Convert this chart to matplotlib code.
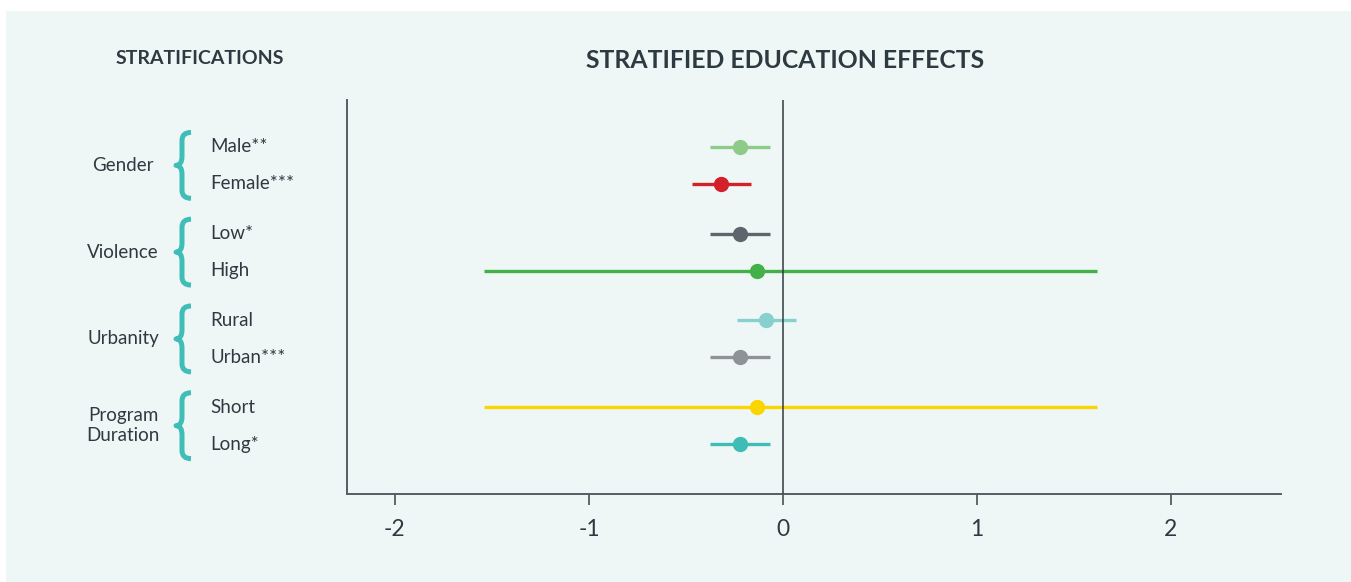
import matplotlib.pyplot as plt
import matplotlib.transforms as mtransforms
from matplotlib.path import Path
from matplotlib.patches import PathPatch, Rectangle

plt.rcParams['font.family'] = ['Lato', 'DejaVu Sans']

# data
groups = ['Gender', 'Violence', 'Urbanity', 'Program\nDuration']
labels = [['Male**', 'Female***'], ['Low*', 'High'],
          ['Rural', 'Urban***'], ['Short', 'Long*']]
estimates = [[-0.22, -0.32], [-0.22, -0.134], [-0.088, -0.22], [-0.134, -0.22]]
lower = [[-0.376, -0.47], [-0.376, -1.54], [-0.237, -0.376], [-1.54, -0.376]]
upper = [[-0.067, -0.165], [-0.067, 1.62], [0.067, -0.067], [1.62, -0.067]]
colors = [['#8fcb88', '#d42029'], ['#5e656d', '#43b049'],
          ['#86d0cd', '#8e9398'], ['#fbd500', '#3fbcb6']]
xticks = [-2, -1, 0, 1, 2]

text_col = '#2e3a41'
bg = '#eff7f6'
group_step = 2.35

fig = plt.figure(figsize=(13.51, 5.82), dpi=100)
fig.patches.append(Rectangle((6 / 1351, 0), 1, 1 - 11 / 582, transform=fig.transFigure,
                             facecolor=bg, edgecolor='none', zorder=-10))
ax = fig.add_axes([347 / 1351, 88 / 582, (1281 - 347) / 1351, (494 - 100) / 582])
ax.set_facecolor('none')

ax.axvline(0, color='#333b40', lw=1.1, zorder=5)

for g in range(len(groups)):
    for r in range(2):
        y = g * group_step + r
        ax.plot([lower[g][r], upper[g][r]], [y, y], color=colors[g][r], lw=2.4,
                solid_capstyle='butt', zorder=3)
        ax.plot(estimates[g][r], y, 'o', color=colors[g][r], ms=10, zorder=6)

ax.set_xlim(-2.247, 2.567)
ax.set_ylim(3 * group_step + 1 + 1.35, -1.27)
ax.set_xticks(xticks)
ax.set_xticklabels([str(t) for t in xticks], fontsize=16.5, color=text_col)
ax.set_yticks([])
ax.tick_params(axis='x', length=8, width=1.3, color='#555d62', pad=10)
for s in ['top', 'right']:
    ax.spines[s].set_visible(False)
for s in ['left', 'bottom']:
    ax.spines[s].set_color('#555d62')
    ax.spines[s].set_linewidth(1.4)

fig.text(785 / 1351, 1 - 60 / 582, 'STRATIFIED EDUCATION EFFECTS', ha='center', va='center',
         fontsize=17.8, fontweight='bold', color=text_col)
fig.text(200 / 1351, 1 - 58 / 582, 'STRATIFICATIONS', ha='center', va='center',
         fontsize=14, fontweight='bold', color=text_col)

# labels and braces
blend = mtransforms.blended_transform_factory(fig.transFigure, ax.transData)
px = 1 / 1351
unit = 37.0  # pixels per data unit in y
for g in range(len(groups)):
    y0 = g * group_step
    yc = y0 + 0.5
    fig.text(123 / 1351, 0, groups[g], transform=blend, ha='center', va='center',
             fontsize=13.5, color=text_col, linespacing=1.25).set_y(yc)
    for r in range(2):
        fig.text(210 / 1351, 0, labels[g][r], transform=blend, ha='left', va='center',
                 fontsize=13.5, color=text_col).set_y(y0 + r)
    # curly brace, x in pixels, y in pixels from centre
    h = 33
    pts = [(191, -h), (182, -h), (182, -h + 8),
           (182, -9),
           (182, 0), (176, 0),
           (182, 0), (182, 9),
           (182, h - 8),
           (182, h), (191, h)]
    codes = [Path.MOVETO, Path.CURVE3, Path.CURVE3, Path.LINETO,
             Path.CURVE3, Path.CURVE3, Path.CURVE3, Path.CURVE3,
             Path.LINETO, Path.CURVE3, Path.CURVE3]
    verts = [(x * px, yc + y / unit) for x, y in pts]
    ax.add_patch(PathPatch(Path(verts, codes), transform=blend, fill=False,
                           edgecolor='#3fbdb7', lw=3.6, clip_on=False,
                           capstyle='butt', joinstyle='round'))

fig.savefig('out.png', dpi=100)
